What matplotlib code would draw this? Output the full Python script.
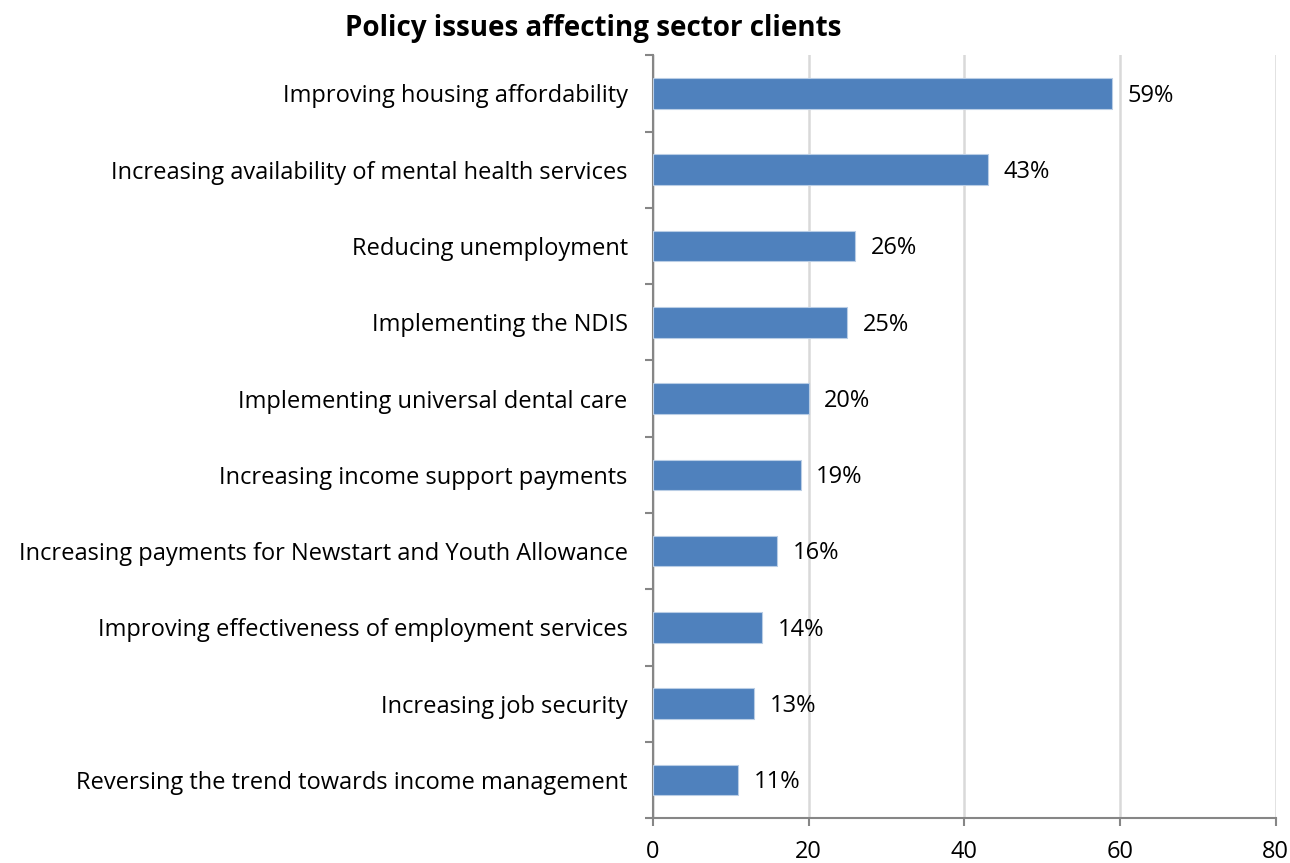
import matplotlib
matplotlib.use('Agg')
import matplotlib.pyplot as plt
from matplotlib.ticker import FixedLocator

plt.rcParams['font.family'] = ['Open Sans', 'DejaVu Sans']

issues = [
    'Improving housing affordability',
    'Increasing availability of mental health services',
    'Reducing unemployment',
    'Implementing the NDIS',
    'Implementing universal dental care',
    'Increasing income support payments',
    'Increasing payments for Newstart and Youth Allowance',
    'Improving effectiveness of employment services',
    'Increasing job security',
    'Reversing the trend towards income management',
]
share = [59, 43, 26, 25, 20, 19, 16, 14, 13, 11]
x_ticks = [0, 20, 40, 60, 80]

bar_color = '#4F81BD'
axis_color = '#868686'
grid_color = '#D9D9D9'

fig = plt.figure(figsize=(12.9, 8.63), dpi=100)
ax = fig.add_axes([0.506, 0.052, 0.483, 0.884])

n = len(issues)
ypos = list(range(n))
ax.barh(ypos, share, height=0.4, color=bar_color, edgecolor='#B9CDE5',
        linewidth=0.8, zorder=3)

# value labels just right of each bar
for y, v in zip(ypos, share):
    ax.text(v + 2.0, y + 0.03, f'{v}%', va='center', ha='left', fontsize=17,
            color='black')

ax.set_xlim(0, 80)
ax.set_ylim(n - 0.5, -0.5)
ax.set_xticks(x_ticks)
ax.set_xticklabels([str(t) for t in x_ticks], fontsize=17)
ax.xaxis.grid(True, color=grid_color, linewidth=1.8, zorder=0)

ax.set_yticks(ypos)
ax.set_yticklabels(issues, fontsize=17)
ax.tick_params(axis='y', which='major', length=0, pad=18)
ax.yaxis.set_minor_locator(FixedLocator([i - 0.5 for i in range(n + 1)]))
ax.tick_params(axis='y', which='minor', length=6, width=1.5, color=axis_color,
               direction='out')
ax.tick_params(axis='x', length=6, width=1.5, color=axis_color,
               direction='out', pad=10)

for side in ['top', 'right']:
    ax.spines[side].set_visible(False)
for side in ['left', 'bottom']:
    ax.spines[side].set_color(axis_color)
    ax.spines[side].set_linewidth(1.5)

fig.text(0.46, 0.967, 'Policy issues affecting sector clients', ha='center',
         va='center', fontsize=20, fontweight='bold')

fig.savefig('out.png', dpi=100)
